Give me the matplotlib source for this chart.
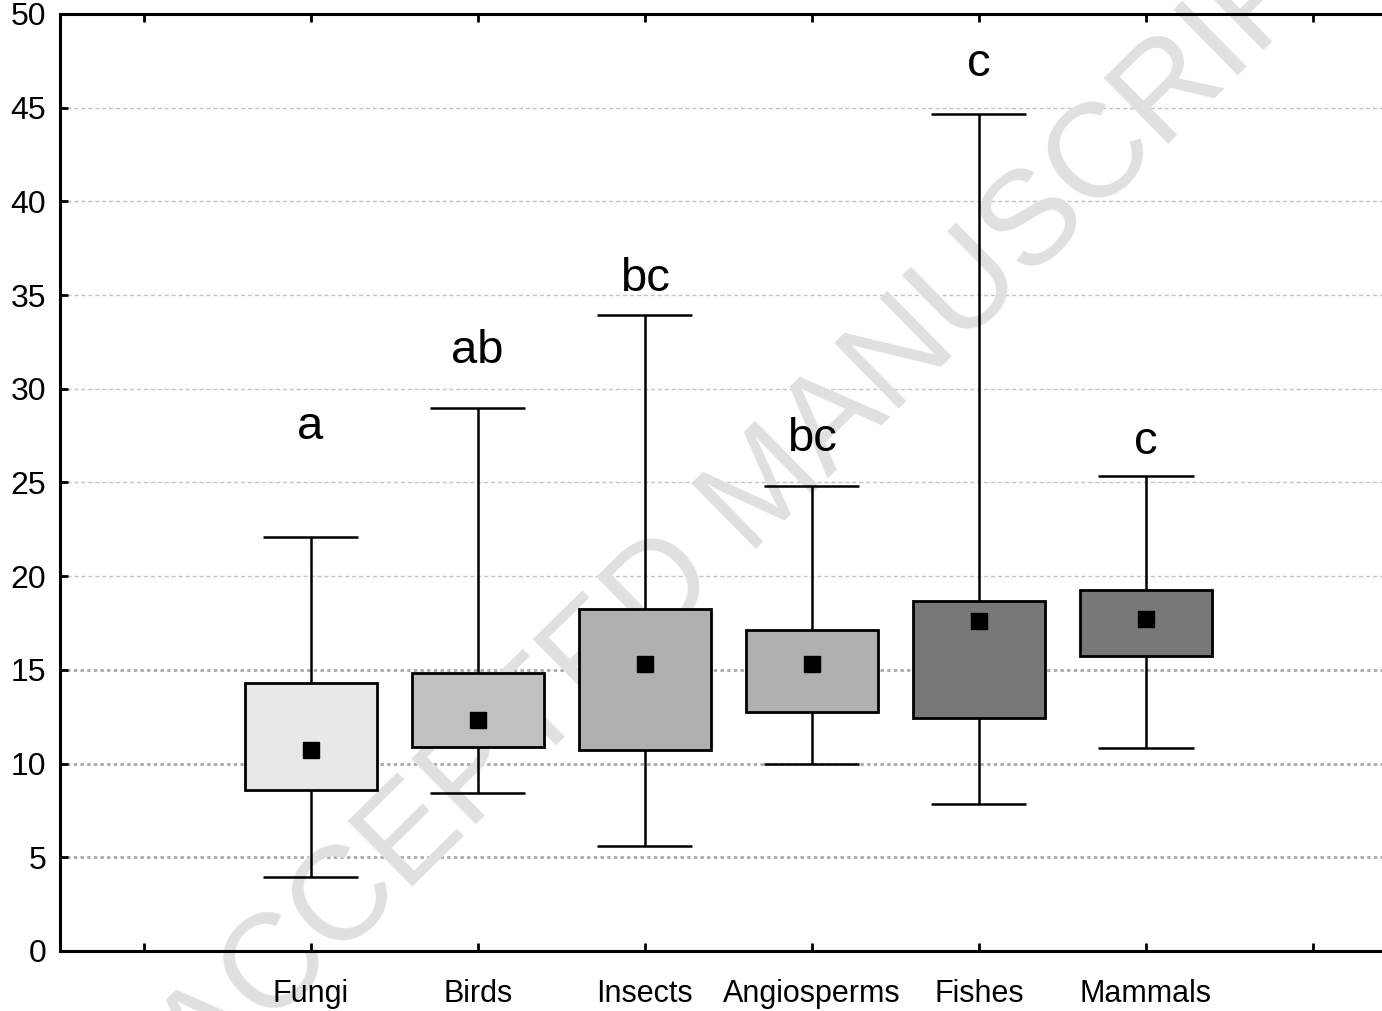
import matplotlib
matplotlib.use("Agg")
import matplotlib.pyplot as plt
import numpy as np

categories = ["Fungi", "Birds", "Insects", "Angiosperms", "Fishes", "Mammals"]
means = [10.7, 12.3, 15.3, 15.3, 17.6, 17.7]
box_low = [8.6, 10.9, 10.7, 12.75, 12.45, 15.75]
box_high = [14.3, 14.85, 18.25, 17.15, 18.7, 19.25]
whisk_low = [3.95, 8.45, 5.6, 10.0, 7.85, 10.85]
whisk_high = [22.1, 28.95, 33.95, 24.8, 44.65, 25.35]
letters = ["a", "ab", "bc", "bc", "c", "c"]
letter_y = [27.3, 31.4, 35.2, 26.7, 46.7, 26.5]
colors = ["#e8e8e8", "#c0c0c0", "#b0b0b0", "#b0b0b0", "#787878", "#787878"]
yticks = [0, 5, 10, 15, 20, 25, 30, 35, 40, 45, 50]

plt.rcParams['font.family'] = ['Liberation Sans', 'DejaVu Sans']

W, H = 1382, 1011
fig = plt.figure(figsize=(W / 100, H / 100), dpi=100)
left = 60 / W
right = 1396.5 / W
bottom = 1 - 951 / H
top = 1 - 14 / H
ax = fig.add_axes([left, bottom, right - left, top - bottom])

pos = np.arange(1, len(categories) + 1)

ax.set_xlim(-0.5, 7.5)
ax.set_ylim(0, 50)

# gridlines
for y in [20, 25, 30, 35, 40, 45]:
    ax.axhline(y, color="#c4c4c4", lw=1.0, ls=(0, (3, 2)), zorder=0.5)
for y in [5, 10, 15]:
    ax.axhline(y, color="#a8a8a8", lw=2.0, ls=(0, (1.2, 1.2)), zorder=0.5)

# watermark
ax.text(0.555, 0.515, "ACCEPTED MANUSCRIPT", transform=fig.transFigure,
        fontsize=96, color="#e0e0e0", rotation=44.5, ha="center", va="center",
        zorder=0.6, clip_on=False)

# whiskers
ax.vlines(pos, whisk_low, whisk_high, color="black", lw=1.8, zorder=2)
cap = 0.285
ax.hlines(whisk_low, pos - cap, pos + cap, color="black", lw=1.8, zorder=2)
ax.hlines(whisk_high, pos - cap, pos + cap, color="black", lw=1.8, zorder=2)

# boxes
heights = [h - l for h, l in zip(box_high, box_low)]
ax.bar(pos, heights, bottom=box_low, width=0.79, color=colors,
       edgecolor="black", linewidth=2.0, zorder=3)

# means
ax.plot(pos, means, ls="none", marker="s", markersize=12, color="black", zorder=4)

# letters
for p, t, y in zip(pos, letters, letter_y):
    ax.text(p, y, t, ha="center", va="baseline", fontsize=34, zorder=5)

ax.set_yticks(yticks)
ax.set_yticklabels([str(v) for v in yticks], fontsize=23)
ax.set_xticks(np.arange(0, 8))
ax.set_xticklabels([""] + categories + [""], fontsize=22)
ax.tick_params(axis="both", direction="in", length=6, width=2, top=True)
ax.tick_params(axis="y", pad=10)
ax.tick_params(axis="x", pad=20)

for s in ["left", "bottom", "top", "right"]:
    ax.spines[s].set_linewidth(2.2)

fig.savefig("out.png", dpi=100)
